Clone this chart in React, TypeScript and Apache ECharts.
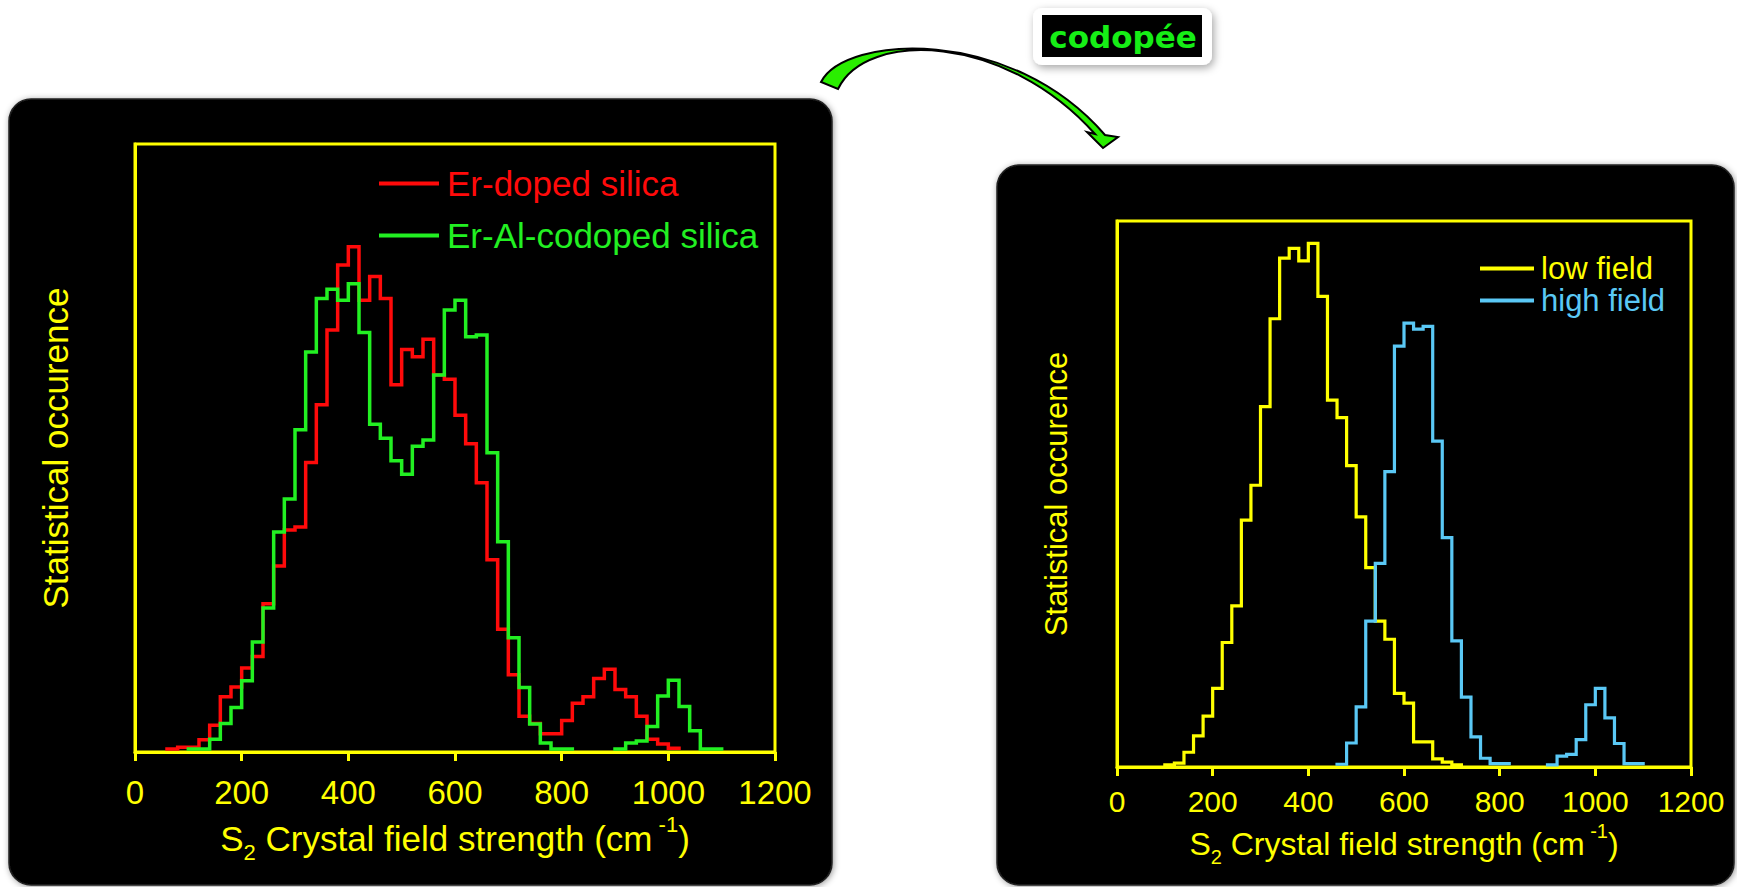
import React, { useEffect, useRef } from "react";
import * as echarts from "echarts";

// Histogram bin width (cm-1) shared by every distribution.
const BIN_WIDTH = 20;

// Left panel: Er-doped vs Er-Al-codoped silica (left edge of each bin, cm-1).
const silicaBins = [
  60, 80, 100, 120, 140, 160, 180, 200, 220, 240, 260, 280, 300, 320, 340, 360, 380, 400,
  420, 440, 460, 480, 500, 520, 540, 560, 580, 600, 620, 640, 660, 680, 700, 720, 740, 760,
  780, 800, 820, 840, 860, 880, 900, 920, 940, 960, 980, 1000, 1020, 1040, 1060, 1080,
];
const erDoped = [
  0.5, 0.8, 0.8, 2.0, 4.4, 9.1, 10.7, 13.8, 15.7, 24.4, 30.6, 36.5, 37.0, 47.6, 57.1, 69.4,
  80.1, 83.1, 74.3, 78.2, 74.6, 60.4, 66.2, 65.0, 67.9, 62.0, 61.3, 55.4, 50.7, 44.3, 31.6,
  20.2, 12.7, 5.9, 4.7, 3.0, 3.0, 5.2, 8.0, 9.1, 12.1, 13.6, 10.3, 9.1, 5.9, 2.1, 1.3, 0.6,
  null, null, null, null,
];
const erAlCodoped = [
  null, null, 0.5, 0.5, 2.1, 4.7, 7.3, 11.7, 18.1, 23.7, 36.2, 41.6, 53.0, 65.8, 74.6, 76.1,
  74.3, 77.0, 69.0, 53.9, 51.6, 47.9, 45.7, 50.3, 51.3, 62.0, 72.7, 74.3, 68.3, 68.6, 49.2,
  34.6, 18.8, 10.6, 4.6, 1.5, 0.5, 0.5, null, null, null, null, 0.5, 1.5, 1.8, 4.2, 9.2,
  11.8, 7.5, 3.5, 0.5, 0.5,
];

// Right panel: codoped distribution split into low / high field sites.
const fieldBins = [
  100, 120, 140, 160, 180, 200, 220, 240, 260, 280, 300, 320, 340, 360, 380, 400, 420, 440,
  460, 480, 500, 520, 540, 560, 580, 600, 620, 640, 660, 680, 700, 720, 740, 760, 780, 800,
  820, 840, 860, 880, 900, 920, 940, 960, 980, 1000, 1020, 1040, 1060, 1080,
];
const lowField = [
  0.4, 0.7, 2.7, 5.7, 9.3, 14.4, 22.8, 29.5, 45.2, 51.6, 66.0, 82.1, 93.2, 95.0, 92.7, 95.9,
  86.2, 67.2, 64.0, 55.2, 45.8, 36.5, 26.7, 23.4, 13.5, 11.7, 4.6, 4.6, 1.5, 0.9, 0.4,
  null, null, null, null, null, null, null, null, null, null, null, null, null, null, null,
  null, null, null, null,
];
const highField = [
  null, null, null, null, null, null, null, null, null, null, null, null, null, null, null,
  null, null, null, 0.5, 4.4, 11.0, 26.7, 37.3, 54.1, 77.1, 81.3, 80.2, 80.7, 59.7, 42.0,
  23.1, 12.8, 5.5, 1.6, 0.6, 0.6, null, null, null, null, 0.4, 2.0, 2.3, 5.0, 11.4, 14.4,
  9.0, 4.3, 0.6, 0.6,
];

const AXIS_MIN = 0;
const AXIS_MAX = 1200;
const AXIS_STEP = 200;

const FONT = '"Liberation Sans", Arial, Helvetica, sans-serif';
const YELLOW = "#ffff00";
const RED = "#ff0a0a";
const GREEN = "#22f022";
const BLUE = "#5ac8f5";

// Curved "codopée" arrow between the two panels.
const ARROW_PATH =
  "M 821 82 C 845 35 1010 25 1105 135 L 1118 137 L 1103 148 L 1087 132 L 1095 134 " +
  "C 1005 33 866 30 838 89 Z";
echarts.graphic.registerShape("curvedArrow", echarts.graphic.extendPath(ARROW_PATH, {}));

// Turns bin edges + counts into the outline of a step histogram.
function stepOutline(bins: number[], counts: (number | null)[]) {
  const pts: (number | null)[][] = [];
  bins.forEach((edge, i) => {
    const c = counts[i];
    if (c == null) {
      pts.push([edge, null]);
      return;
    }
    pts.push([edge, c], [edge + BIN_WIDTH, c]);
  });
  return pts;
}

function xAxisFor(gridIndex: number, fs: number, titleFs: number, margin: number, gap: number, lh: number, supLh: number) {
  const small = Math.round(titleFs * 0.64);
  return {
    type: "value",
    gridIndex,
    min: AXIS_MIN,
    max: AXIS_MAX,
    interval: AXIS_STEP,
    z: 3,
    axisLine: { show: true, lineStyle: { color: YELLOW, width: 3 } },
    axisTick: { show: true, inside: false, length: 9, lineStyle: { color: YELLOW, width: 3 } },
    axisLabel: {
      color: YELLOW,
      fontSize: fs,
      fontFamily: FONT,
      margin,
      formatter: (v: number) => String(v),
    },
    splitLine: { show: false },
    name: "{m|S}{sub|2}{m| Crystal field strength (cm}{sup| -1}{m|)}",
    nameLocation: "middle",
    nameGap: gap,
    nameMoveOverlap: false,
    nameTextStyle: {
      color: YELLOW,
      fontFamily: FONT,
      fontSize: titleFs,
      lineHeight: lh,
      rich: {
        m: { color: YELLOW, fontFamily: FONT, fontSize: titleFs, lineHeight: lh },
        sub: { color: YELLOW, fontFamily: FONT, fontSize: small, lineHeight: 10, verticalAlign: "bottom" },
        sup: { color: YELLOW, fontFamily: FONT, fontSize: small, lineHeight: supLh, verticalAlign: "top" },
      },
    },
  };
}

function yAxisFor(gridIndex: number, fs: number, gap: number) {
  return {
    type: "value",
    gridIndex,
    min: 0,
    max: 100,
    z: 3,
    axisLine: { show: true, lineStyle: { color: YELLOW, width: 3 } },
    axisTick: { show: false },
    axisLabel: { show: false },
    splitLine: { show: false },
    name: "Statistical occurence",
    nameLocation: "middle",
    nameRotate: 90,
    nameGap: gap,
    nameMoveOverlap: false,
    nameTextStyle: { color: YELLOW, fontFamily: FONT, fontSize: fs },
  };
}

function histSeries(name: string, color: string, axis: number, bins: number[], counts: (number | null)[], width: number) {
  return {
    type: "line",
    name,
    xAxisIndex: axis,
    yAxisIndex: axis,
    data: stepOutline(bins, counts),
    showSymbol: false,
    symbol: "none",
    connectNulls: false,
    color,
    itemStyle: { color },
    lineStyle: { color, width, join: "miter", cap: "square" },
    z: 4,
  };
}

const panelStyle = {
  fill: "#060606",
  stroke: "#222222",
  lineWidth: 1.5,
  shadowBlur: 6,
  shadowColor: "rgba(0,0,0,0.4)",
  shadowOffsetX: 1,
  shadowOffsetY: 1,
};

export default function App() {
  const ref = useRef<HTMLDivElement>(null);

  useEffect(() => {
    if (!ref.current) return;
    const chart = echarts.init(ref.current, undefined, { renderer: "svg" });
    chart.setOption({
      animation: false,
      backgroundColor: "#ffffff",
      grid: [
        { left: 135, top: 144, width: 640, height: 608, show: true, borderColor: YELLOW, borderWidth: 3, backgroundColor: "transparent", containLabel: false, outerBoundsMode: "none", z: 2 },
        { left: 1117, top: 221, width: 574, height: 546, show: true, borderColor: YELLOW, borderWidth: 3, backgroundColor: "transparent", containLabel: false, outerBoundsMode: "none", z: 2 },
      ],
      xAxis: [xAxisFor(0, 33, 35, 24, 61, 50, 22), xAxisFor(1, 30, 32, 19, 54, 46, 26)],
      yAxis: [yAxisFor(0, 35, 62), yAxisFor(1, 31, 45)],
      legend: [
        {
          orient: "vertical",
          left: 379,
          top: 166,
          padding: 0,
          itemGap: 17,
          itemWidth: 60,
          itemHeight: 4,
          icon: "rect",
          selectedMode: false,
          z: 5,
          itemStyle: { borderWidth: 0 },
          textStyle: { fontSize: 35, fontFamily: FONT, padding: [0, 0, 0, 3] },
          data: [
            { name: "Er-doped silica", textStyle: { color: RED } },
            { name: "Er-Al-codoped silica", textStyle: { color: GREEN } },
          ],
        },
        {
          orient: "vertical",
          left: 1480,
          top: 253,
          padding: 0,
          itemGap: 1,
          itemWidth: 54,
          itemHeight: 4,
          icon: "rect",
          selectedMode: false,
          z: 5,
          itemStyle: { borderWidth: 0 },
          textStyle: { fontSize: 31, fontFamily: FONT, padding: [0, 0, 0, 2] },
          data: [
            { name: "low field", textStyle: { color: YELLOW } },
            { name: "high field", textStyle: { color: BLUE } },
          ],
        },
      ],
      graphic: [
        { type: "rect", z: -5, shape: { x: 9, y: 99, width: 823, height: 786, r: 22 }, style: panelStyle },
        { type: "rect", z: -5, shape: { x: 997, y: 165, width: 737, height: 720, r: 22 }, style: panelStyle },
        {
          type: "rect",
          z: 1,
          shape: { x: 1033, y: 8, width: 179, height: 57, r: 9 },
          style: { fill: "#ffffff", shadowBlur: 8, shadowColor: "rgba(0,0,0,0.35)", shadowOffsetX: 2, shadowOffsetY: 3 },
        },
        { type: "rect", z: 2, shape: { x: 1042, y: 15, width: 160, height: 42 }, style: { fill: "#000000" } },
        {
          type: "text",
          z: 3,
          x: 1123,
          y: 37,
          style: {
            text: "codopée",
            fill: "#16ee16",
            fontSize: 31,
            fontWeight: "bold",
            fontFamily: '"DejaVu Sans", Verdana, sans-serif',
            align: "center",
            verticalAlign: "middle",
          },
        },
        {
          type: "curvedArrow",
          z: 3,
          x: 0,
          y: 0,
          style: { fill: "#2aee00", stroke: "#000000", lineWidth: 2, lineJoin: "miter" },
        },
      ],
      series: [
        histSeries("Er-doped silica", RED, 0, silicaBins, erDoped, 3.5),
        histSeries("Er-Al-codoped silica", GREEN, 0, silicaBins, erAlCodoped, 3.5),
        histSeries("low field", YELLOW, 1, fieldBins, lowField, 3.2),
        histSeries("high field", BLUE, 1, fieldBins, highField, 3.2),
      ],
    });
    return () => chart.dispose();
  }, []);

  return (
    <div
      ref={ref}
      style={{ position: "absolute", left: 0, top: 0, width: 1737, height: 887 }}
    />
  );
}
